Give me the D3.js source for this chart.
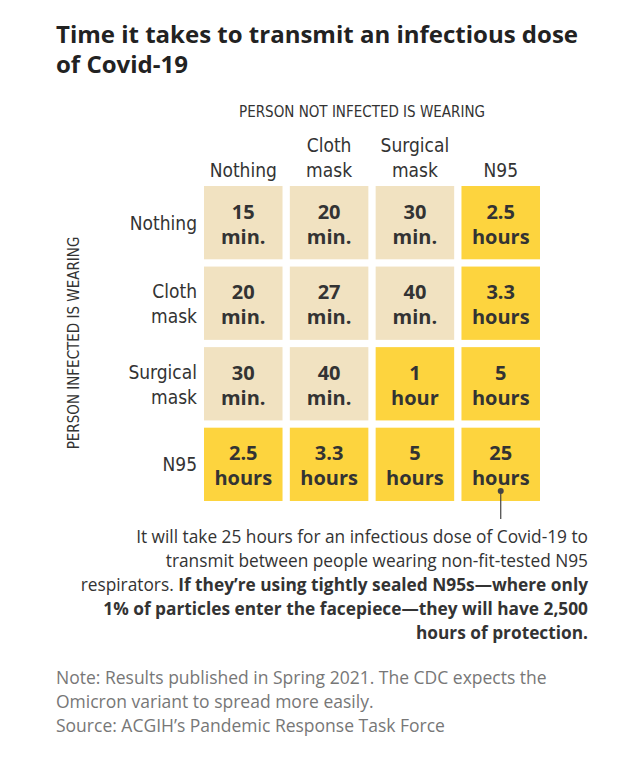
<!DOCTYPE html>
<html><head><meta charset="utf-8">
<script src="https://cdn.jsdelivr.net/npm/d3@7"></script>
<style>body{margin:0;background:#fff}.cond{font-stretch:condensed}</style></head>
<body><svg id="c" width="642" height="759"></svg>
<script>
const cols = ["Nothing","Cloth mask","Surgical mask","N95"];
const rows = ["Nothing","Cloth mask","Surgical mask","N95"];
const numbers = [["15","20","30","2.5"],["20","27","40","3.3"],["30","40","1","5"],["2.5","3.3","5","25"]];
const units = [["min.","min.","min.","hours"],["min.","min.","min.","hours"],["min.","min.","hour","hours"],["hours","hours","hours","hours"]];
const svg = d3.select("#c");
const cond = "'DejaVu Sans Condensed','DejaVu Sans',sans-serif";
const sans = "'Open Sans',sans-serif";
svg.append("text").attr("x",56).attr("y",43).attr("font-family",sans).attr("font-weight",700).attr("font-size",24).attr("fill","#222").text("Time it takes to transmit an infectious dose");
svg.append("text").attr("x",56).attr("y",73).attr("font-family",sans).attr("font-weight",700).attr("font-size",24).attr("fill","#222").text("of Covid-19");
const x = d3.scaleBand().domain(d3.range(4)).range([204,540]).paddingInner(0.085).paddingOuter(0);
const y = d3.scaleBand().domain(d3.range(4)).range([186,501]).paddingInner(0.09).paddingOuter(0);
svg.append("text").attr("class","cond").attr("x",362).attr("y",117).attr("text-anchor","middle").attr("font-family",cond).attr("font-size",15).attr("fill","#333").text("PERSON NOT INFECTED IS WEARING");
svg.append("text").attr("class","cond").attr("transform","translate(79,343) rotate(-90)").attr("text-anchor","middle").attr("font-family",cond).attr("font-size",15).attr("fill","#333").text("PERSON INFECTED IS WEARING");
cols.forEach((c,i)=>{
  const w=c.split(" "); const cx=x(i)+x.bandwidth()/2;
  w.forEach((t,k)=>svg.append("text").attr("class","cond").attr("x",cx).attr("y",177-(w.length-1-k)*25).attr("text-anchor","middle").attr("font-family",cond).attr("font-size",19).attr("fill","#333").text(t));
});
rows.forEach((r,j)=>{
  const w=r.split(" "); const cy=y(j)+y.bandwidth()/2;
  const y0 = w.length==1? cy+7 : cy-5;
  w.forEach((t,k)=>svg.append("text").attr("class","cond").attr("x",197).attr("y",y0+k*25).attr("text-anchor","end").attr("font-family",cond).attr("font-size",19).attr("fill","#333").text(t));
});
const isY = (i,j)=> units[j][i].startsWith("hour");
for(let j=0;j<4;j++)for(let i=0;i<4;i++){
  svg.append("rect").attr("x",x(i)).attr("y",y(j)).attr("width",x.bandwidth()).attr("height",y.bandwidth()).attr("fill",isY(i,j)?"#fdd43e":"#f1e2c1");
  const cx=x(i)+x.bandwidth()/2, cy=y(j)+y.bandwidth()/2;
  svg.append("text").attr("x",cx).attr("y",cy-4).attr("text-anchor","middle").attr("font-family",sans).attr("font-weight",700).attr("font-size",20).attr("fill","#333").text(numbers[j][i]);
  svg.append("text").attr("x",cx).attr("y",cy+21).attr("text-anchor","middle").attr("font-family",sans).attr("font-weight",700).attr("font-size",20).attr("fill","#333").text(units[j][i]);
}
const ax=x(3)+x.bandwidth()/2;
svg.append("line").attr("x1",ax).attr("x2",ax).attr("y1",491).attr("y2",519).attr("stroke","#444").attr("stroke-width",1.2);
svg.append("circle").attr("cx",ax).attr("cy",491).attr("r",3).attr("fill","#444");
const ann=[["It will take 25 hours for an infectious dose of Covid-19 to",400],["transmit between people wearing non-fit-tested N95",400],["respirators. ",400,"If they’re using tightly sealed N95s—where only"],["1% of particles enter the facepiece—they will have 2,500",700],["hours of protection.",700]];
ann.forEach((a,k)=>{
  const t=svg.append("text").attr("x",588).attr("y",543+k*24).attr("text-anchor","end").attr("font-family",sans).attr("font-size",17.3).attr("fill","#333");
  if(a[2]){t.append("tspan").text(a[0]);t.append("tspan").attr("font-weight",700).text(a[2]);}
  else t.attr("font-weight",a[1]).text(a[0]);
});
["Note: Results published in Spring 2021. The CDC expects the","Omicron variant to spread more easily.","Source: ACGIH’s Pandemic Response Task Force"].forEach((s,k)=>
  svg.append("text").attr("x",56).attr("y",684+k*24).attr("font-family",sans).attr("font-size",17.5).attr("fill","#777").text(s));
</script></body></html>
